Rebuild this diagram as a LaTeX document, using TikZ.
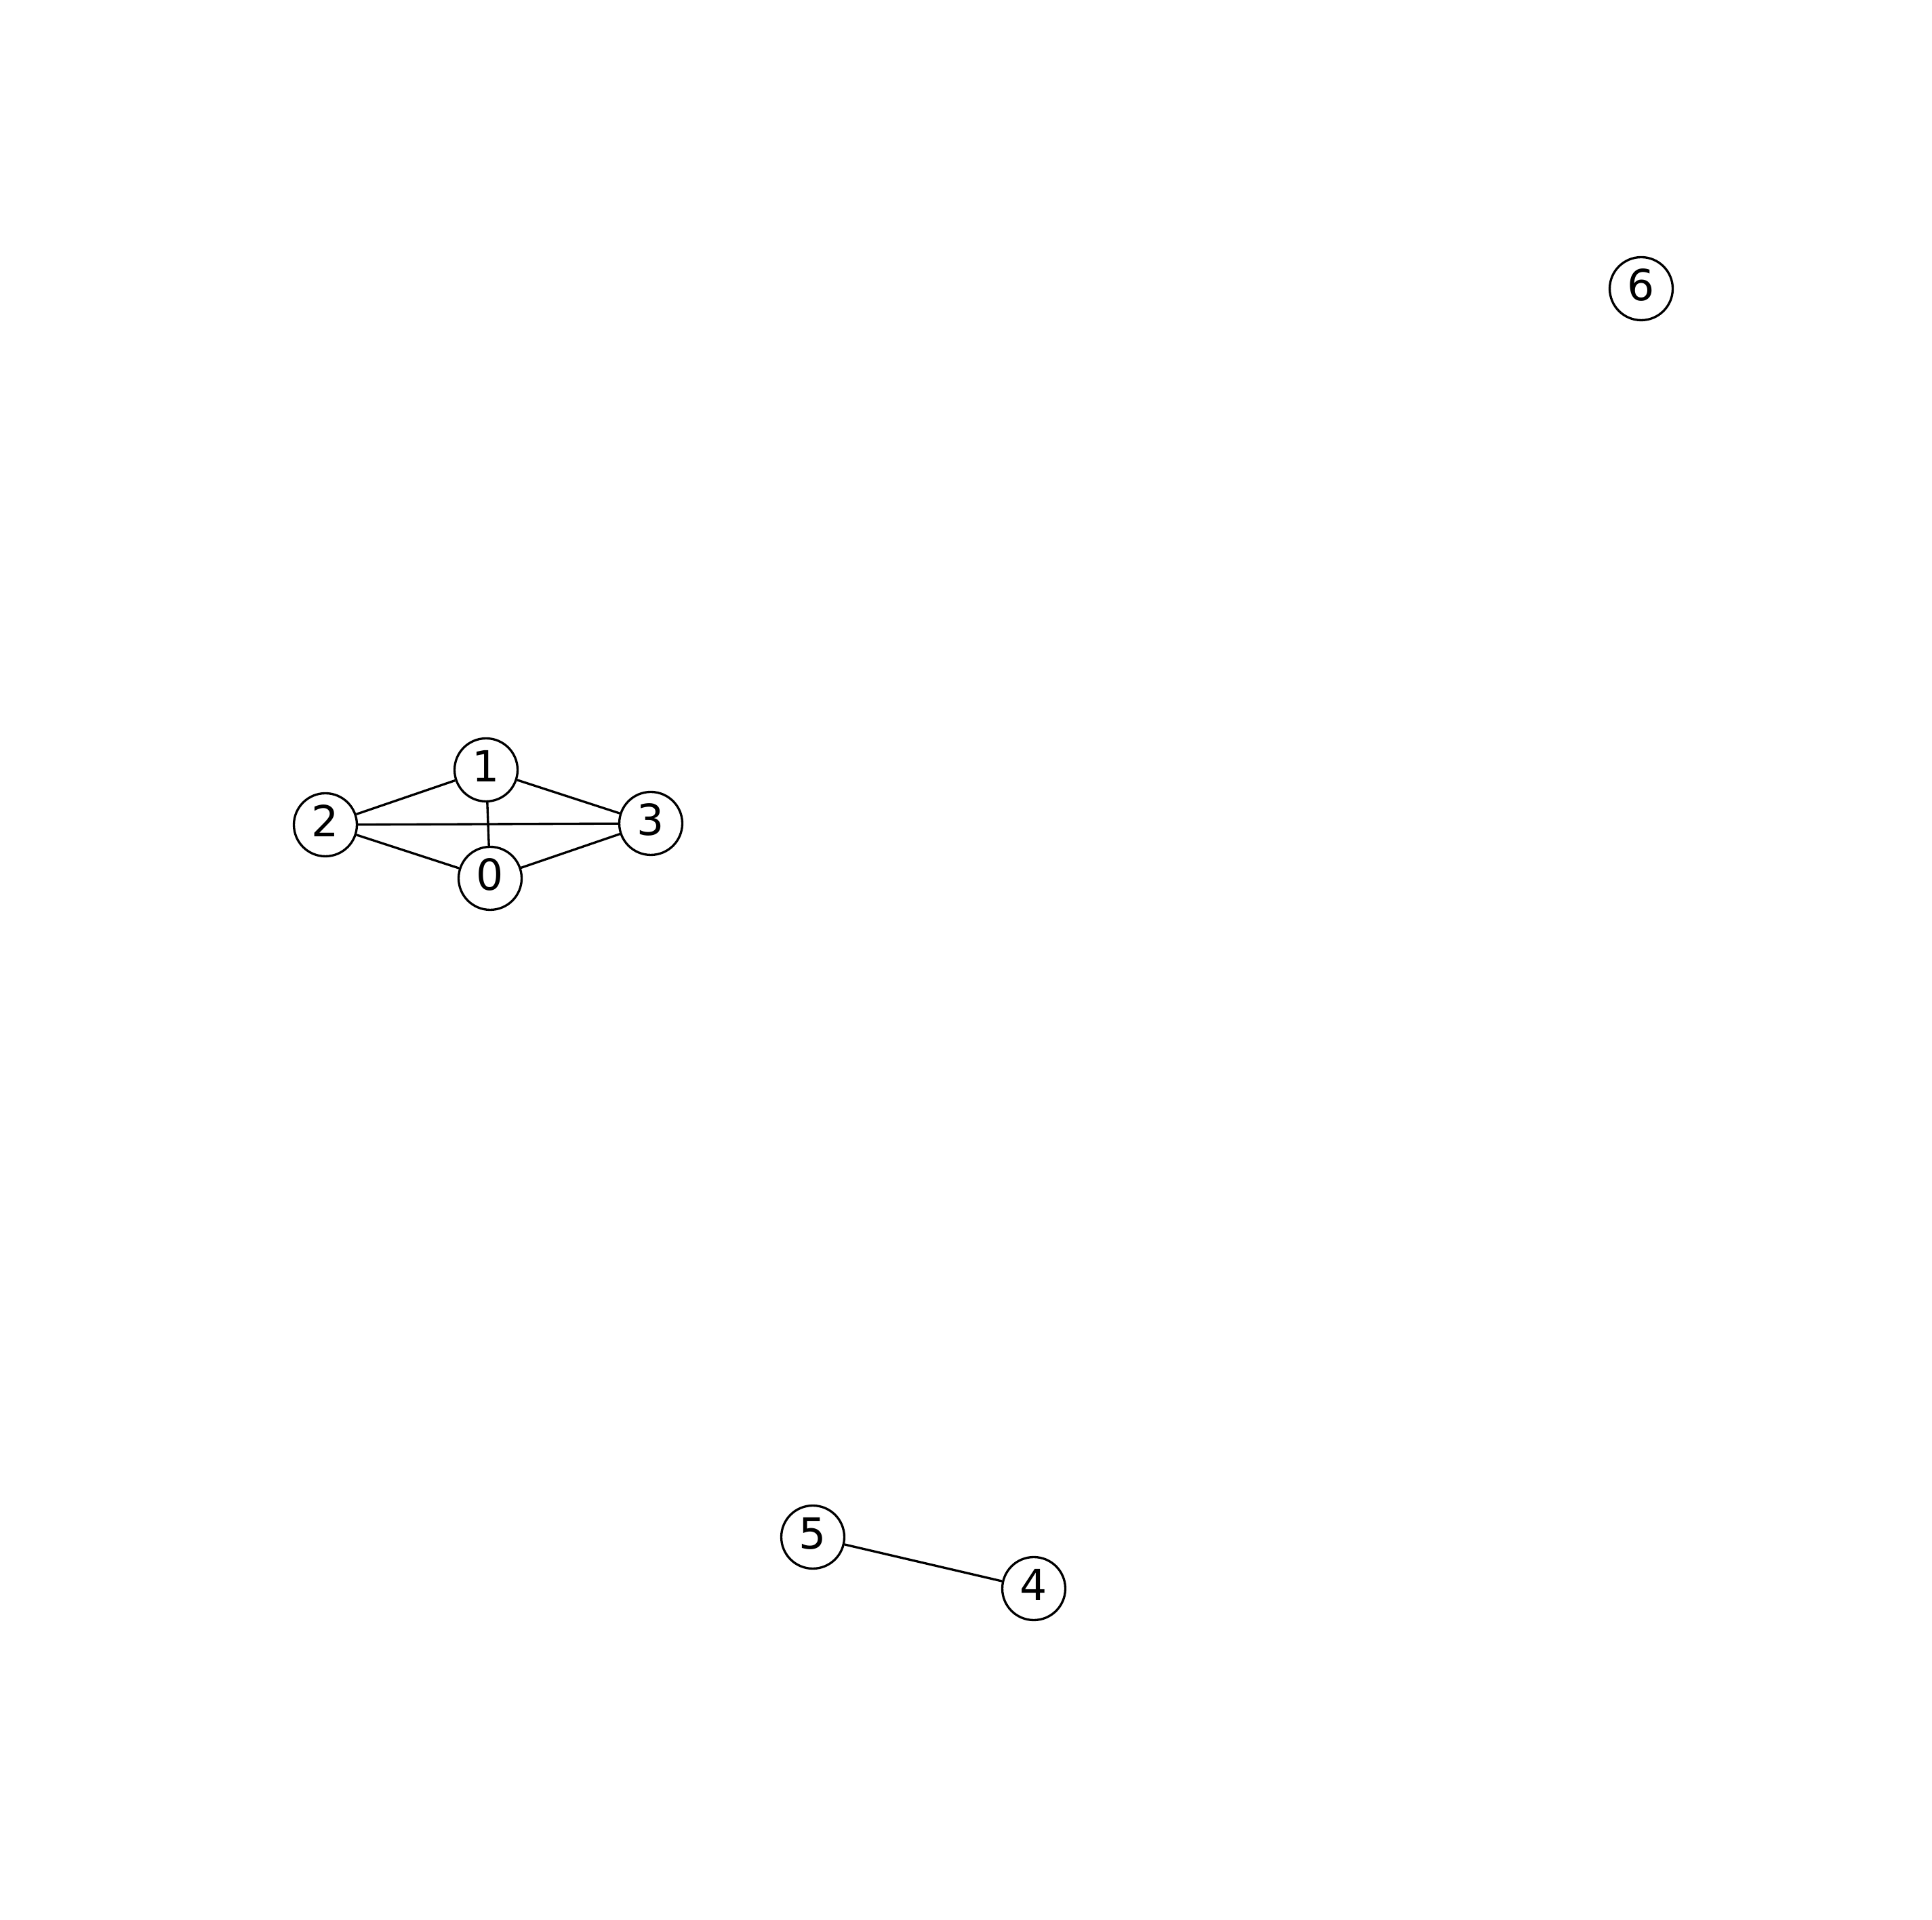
\documentclass[tikz,border=0pt]{standalone}
\usepackage{fontspec}
\setmainfont{DejaVu Sans}

\begin{document}
\begin{tikzpicture}[
  vertex/.style={circle, draw=black, line width=0.95pt, fill=white,
    minimum size=0.93cm, inner sep=0pt, text depth=0.12cm,
    font=\fontsize{18}{18}\selectfont},
  edge/.style={black, line width=0.95pt}]

% 画布范围（与原图比例一致）
\useasboundingbox (0, 0) rectangle (28.5, 28.32);

% 左侧四个点构成完全图 K4
\node[vertex] (n0) at (7.23, 15.36) {0};
\node[vertex] (n1) at (7.17, 16.96) {1};
\node[vertex] (n2) at (4.80, 16.15) {2};
\node[vertex] (n3) at (9.60, 16.17) {3};

% 下方两点一条边
\node[vertex] (n4) at (15.25, 4.88) {4};
\node[vertex] (n5) at (11.99, 5.64) {5};

% 右上角孤立点
\node[vertex] (n6) at (24.21, 24.06) {6};

% 边
\draw[edge] (n0) -- (n1);
\draw[edge] (n0) -- (n2);
\draw[edge] (n0) -- (n3);
\draw[edge] (n1) -- (n2);
\draw[edge] (n1) -- (n3);
\draw[edge] (n2) -- (n3);
\draw[edge] (n4) -- (n5);

\end{tikzpicture}
\end{document}
